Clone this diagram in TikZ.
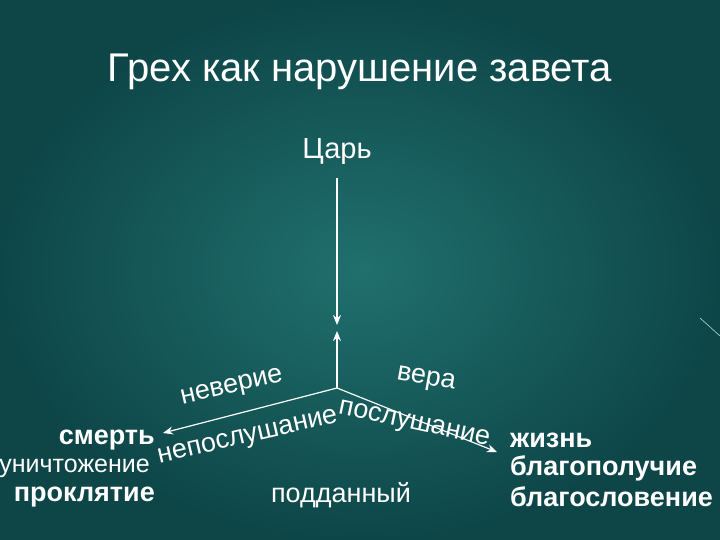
\documentclass[tikz,border=0pt]{standalone}
\usepackage{fontspec}
\setmainfont{Liberation Sans}
\usetikzlibrary{arrows.meta}
\begin{document}
\begin{tikzpicture}[x=1pt,y=-1pt,
  txt/.style={text=white,inner sep=0pt},
  arr/.style={white,line width=1.2pt,-{Stealth[length=10pt,width=8pt]}}]
\useasboundingbox (0,0) rectangle (720,540);
\shade[inner color={rgb,255:red,32;green,112;blue,110}, outer color={rgb,255:red,14;green,70;blue,72}] (0,0) rectangle (720,540);
\draw[white!70!teal,line width=0.6pt] (700,318) -- (720,336);
\node[txt,font=\fontsize{40}{44}\selectfont] (title) at (360,72) {Грех как нарушение завета};
\node[txt,font=\fontsize{29}{32}\selectfont] (tsar) at (337,152) {Царь};
\coordinate (top) at (337,178);
\coordinate (mid) at (337,325);
\coordinate (c) at (337,388);
\coordinate (up) at (337,331);
\coordinate (l) at (163,433);
\coordinate (r) at (497,452);
\draw[arr] (top) -- (mid);
\draw[arr] (c) -- (up);
\draw[arr] (c) -- (l);
\draw[arr] (c) -- (r);
\begin{scope}[every node/.style={txt,font=\fontsize{27}{30}\selectfont}]
\node[rotate=13] (nev) at (232,388) {неверие};
\node[rotate=13] (nep) at (248,438) {непослушание};
\node[rotate=-10] (vera) at (426,380) {вера};
\node[rotate=-12] (posl) at (414,425) {послушание};
\node[font=\bfseries\fontsize{27}{30}\selectfont,anchor=east] (sm) at (155,440) {смерть};
\node[anchor=east,font=\fontsize{25}{28}\selectfont] (un) at (150,468) {уничтожение};
\node[font=\bfseries\fontsize{27}{30}\selectfont,anchor=east] (pr) at (155,497) {проклятие};
\node (pod) at (341,495) {подданный};
\node[font=\bfseries\fontsize{27}{30}\selectfont,anchor=west] (zh) at (510,440) {жизнь};
\node[font=\bfseries\fontsize{27}{30}\selectfont,anchor=west] (bl) at (510,468) {благополучие};
\node[font=\bfseries\fontsize{27}{30}\selectfont,anchor=west] (bs) at (510,497) {благословение};
\end{scope}
\end{tikzpicture}
\end{document}
